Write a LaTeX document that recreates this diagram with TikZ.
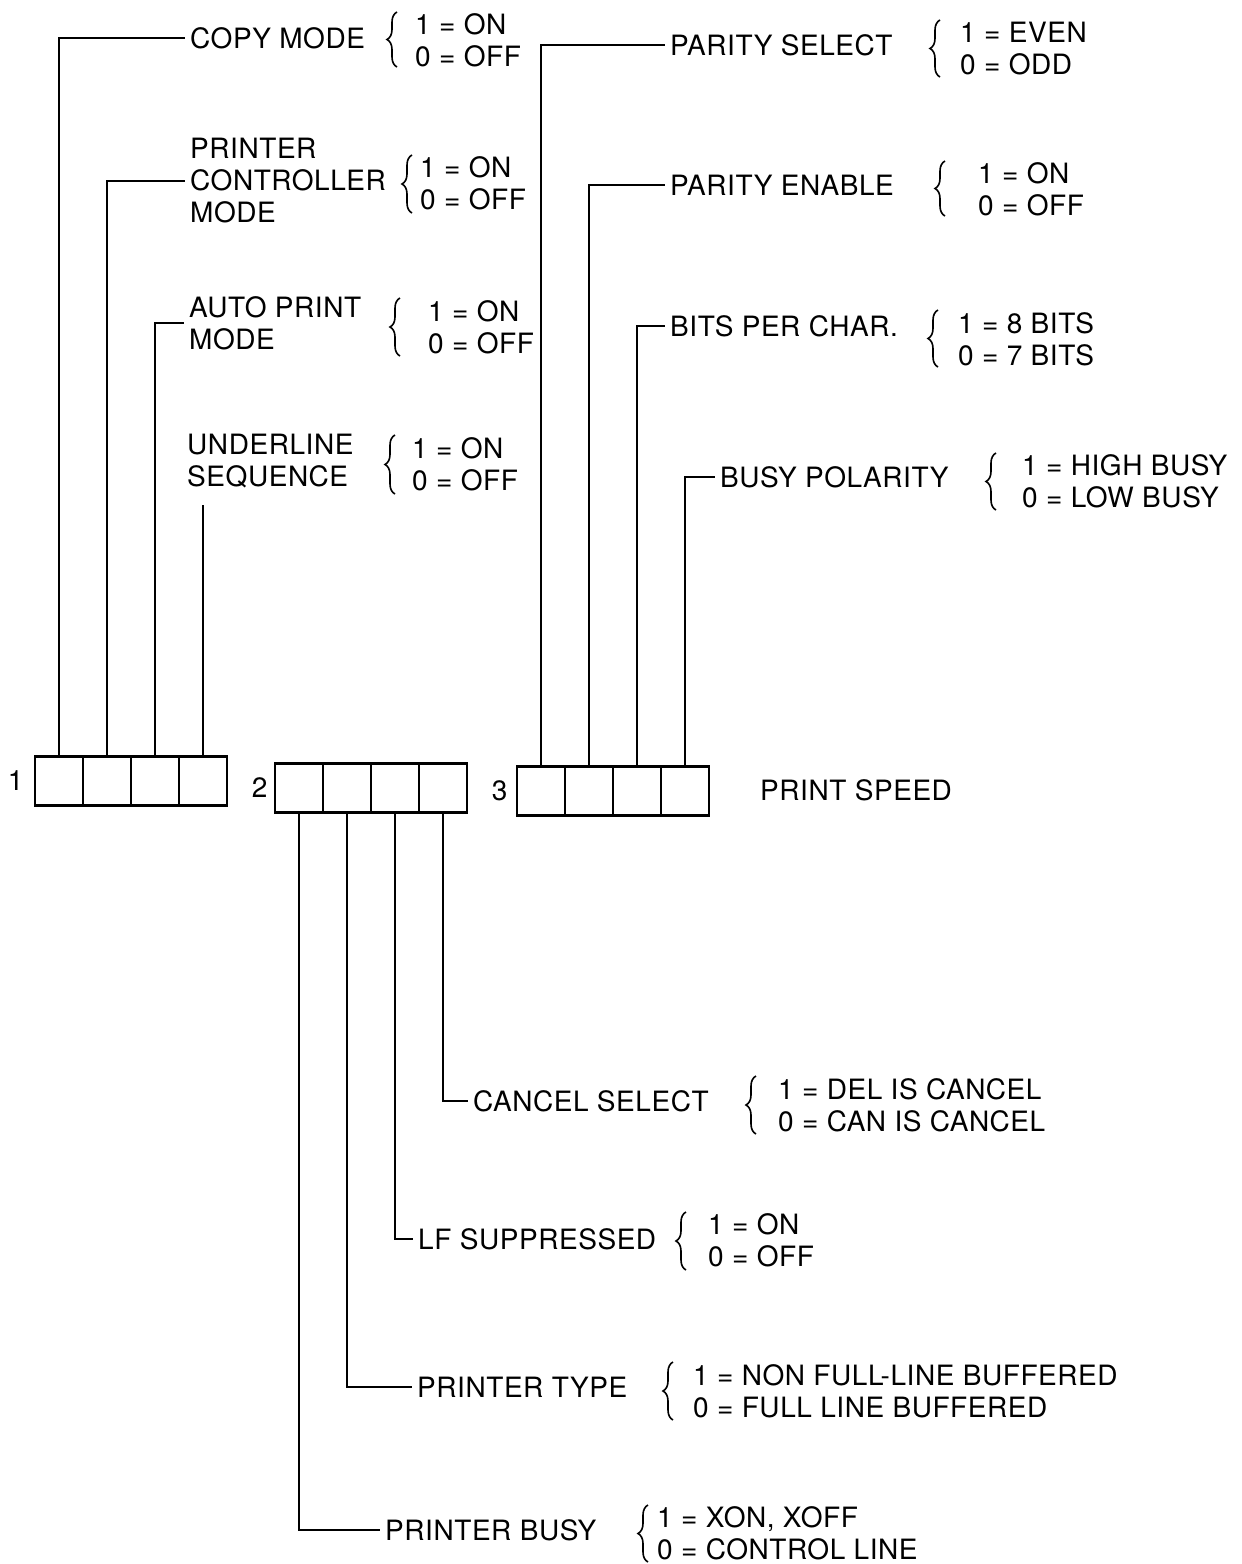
\documentclass[tikz,border=0pt]{standalone}
\usepackage{fontspec}
\setmainfont[LetterSpace=2]{TeX Gyre Heros}
\usetikzlibrary{positioning,decorations.pathreplacing}
\tikzset{
  cell/.style={draw, line width=2.2pt, minimum width=48pt, minimum height=49pt, inner sep=0pt, outer sep=0pt},
  wire/.style={line width=1.8pt},
  lbl/.style={anchor=west, align=left, inner xsep=5pt, inner ysep=0pt},
  val/.style={anchor=west, align=left, inner sep=0pt},
  brc/.style={decorate, decoration={brace, amplitude=10pt}, line width=1.6pt},
}
\begin{document}
\begin{tikzpicture}[x=1pt, y=-1pt, every node/.style={font=\fontsize{28}{32}\selectfont}]
    \useasboundingbox (0,0) rectangle (1242,1564);
    \node[cell] (a1) at (59,781) {};
    \node[cell, right=0pt of a1] (a2) {};
    \node[cell, right=0pt of a2] (a3) {};
    \node[cell, right=0pt of a3] (a4) {};
    \node[cell] (b1) at (299,788) {};
    \node[cell, right=0pt of b1] (b2) {};
    \node[cell, right=0pt of b2] (b3) {};
    \node[cell, right=0pt of b3] (b4) {};
    \node[cell] (c1) at (541,791) {};
    \node[cell, right=0pt of c1] (c2) {};
    \node[cell, right=0pt of c2] (c3) {};
    \node[cell, right=0pt of c3] (c4) {};
    \node[left=8pt of a1] (n1) {1};
    \node[left=4pt of b1] (n2) {2};
    \node[left=6pt of c1] (n3) {3};
    \node[val] (psp) at (760,790) {PRINT SPEED};
    \node[lbl] (cpy) at (185,38) {COPY MODE};
    \node[lbl] (pcm) at (185,181) {PRINTER\\CONTROLLER\\MODE};
    \node[lbl] (apm) at (184,323) {AUTO PRINT\\MODE};
    \node[lbl] (uls) at (182,461) {UNDERLINE\\SEQUENCE};
    \coordinate (uend) at (203,505);
    \node[lbl] (pse) at (665,45) {PARITY SELECT};
    \node[lbl] (pen) at (665,185) {PARITY ENABLE};
    \node[lbl] (bpc) at (665,326) {BITS PER CHAR.};
    \node[lbl] (bpo) at (715,477) {BUSY POLARITY};
    \node[lbl] (cse) at (468,1101) {CANCEL SELECT};
    \node[lbl] (lfs) at (413,1239) {LF SUPPRESSED};
    \node[lbl] (pty) at (412,1387) {PRINTER TYPE};
    \node[lbl] (pbu) at (380,1530) {PRINTER BUSY};
    \node[val] (cpyv) at (415,40) {1 = ON\\0 = OFF};
    \node[val] (pcmv) at (420,183.5) {1 = ON\\0 = OFF};
    \node[val] (apmv) at (428,327) {1 = ON\\0 = OFF};
    \node[val] (ulsv) at (412,464.5) {1 = ON\\0 = OFF};
    \node[val] (psev) at (960,48.5) {1 = EVEN\\0 = ODD};
    \node[val] (penv) at (978,189) {1 = ON\\0 = OFF};
    \node[val] (bpcv) at (958,339) {1 = 8 BITS\\0 = 7 BITS};
    \node[val] (bpov) at (1022,481.5) {1 = HIGH BUSY\\0 = LOW BUSY};
    \node[val] (csev) at (778,1105) {1 = DEL IS CANCEL\\0 = CAN IS CANCEL};
    \node[val] (lfsv) at (708,1240.5) {1 = ON\\0 = OFF};
    \node[val] (ptyv) at (693,1391) {1 = NON FULL-LINE BUFFERED\\0 = FULL LINE BUFFERED};
    \node[val] (pbuv) at (657,1533.5) {1 = XON, XOFF\\0 = CONTROL LINE};
    \foreach \bx/\ba/\bb in {397/12/67, 412/155/213, 400/298/356, 395/435/494,
        940/20/77, 945/161/216, 938/310/367, 996/453/510,
        756/1076/1134, 686/1212/1270, 673/1362/1420, 648/1505/1562}
      \draw[brc] (\bx,\bb) -- (\bx,\ba);
    \draw[wire] (a1.north) |- (cpy.west);
    \draw[wire] (a2.north) |- (pcm.west);
    \draw[wire] (a3.north) |- (apm.west);
    \draw[wire] (a4.north) -- (a4.north |- uend);
    \draw[wire] (c1.north) |- (pse.west);
    \draw[wire] (c2.north) |- (pen.west);
    \draw[wire] (c3.north) |- (bpc.west);
    \draw[wire] (c4.north) |- (bpo.west);
    \draw[wire] (b4.south) |- (cse.west);
    \draw[wire] (b3.south) |- (lfs.west);
    \draw[wire] (b2.south) |- (pty.west);
    \draw[wire] (b1.south) |- (pbu.west);
\end{tikzpicture}
\end{document}
